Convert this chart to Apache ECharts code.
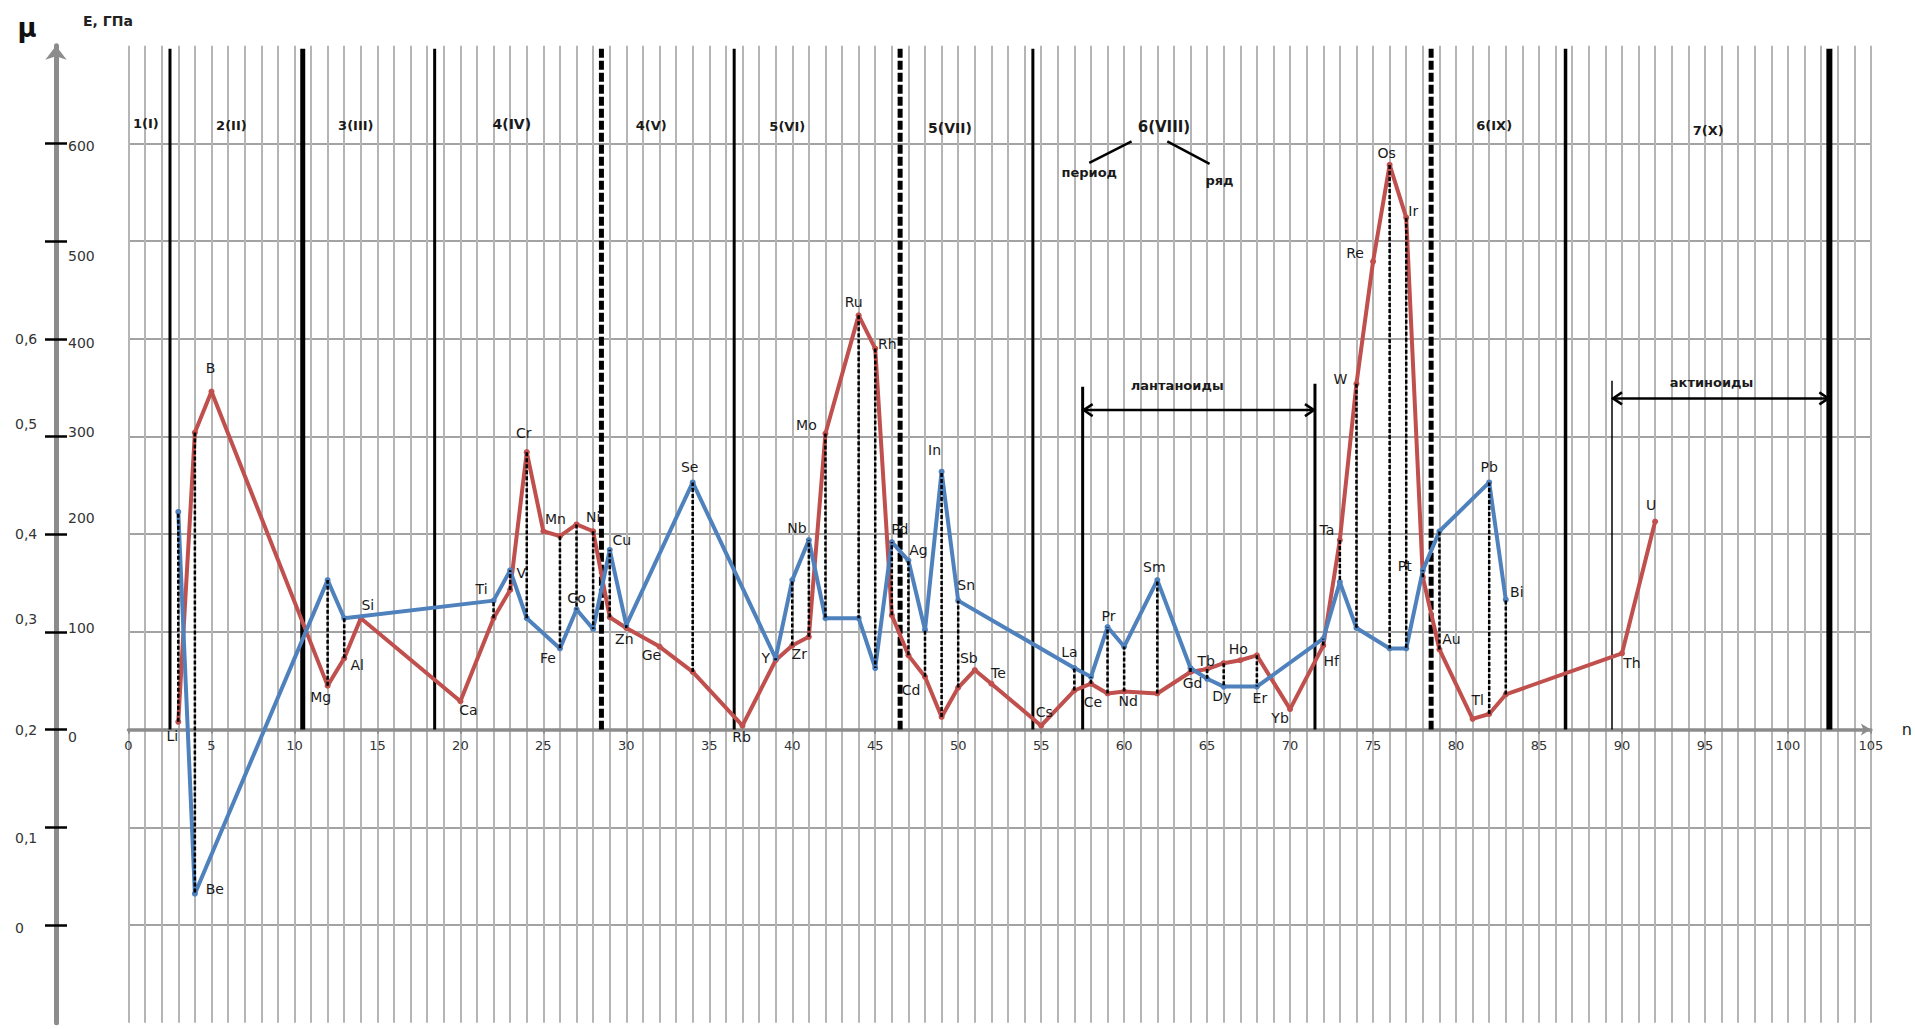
<!DOCTYPE html>
<html>
<head>
<meta charset="utf-8">
<title>E и μ элементов</title>
<script src="https://cdn.jsdelivr.net/npm/echarts@6/dist/echarts.min.js"></script>
<style>
  html, body { margin: 0; padding: 0; background: #fff; }
  #chart { width: 1915px; height: 1029px; }
</style>
</head>
<body>
<div id="chart"></div>
<script>
// модуль упругости E, ГПа (красная линия) по порядковому номеру n
const redN = [3, 4, 5, 12, 13, 14, 20, 22, 23, 24, 25, 26, 27, 28, 29, 30, 32, 34, 37, 39, 40, 41, 42, 44, 45, 46, 47, 48, 49, 50, 51, 52, 55, 57, 58, 59, 60, 62, 64, 65, 66, 67, 68, 70, 72, 73, 74, 75, 76, 77, 78, 79, 81, 82, 83, 90, 92];
const redE = [8, 304, 346, 45, 73, 114, 29, 114, 143, 284, 203, 198, 210, 203, 115, 104, 85, 59, 4, 71, 86, 95, 303, 424, 390, 117, 76, 54, 13, 43, 61, 47, 4, 40, 47, 37, 39, 37, 59, 62, 68, 71, 76, 21, 86, 194, 354, 479, 578, 524, 156, 82, 11, 16, 36, 78, 213];
const redSym = ['Li', 'Be', 'B', 'Mg', 'Al', 'Si', 'Ca', 'Ti', 'V', 'Cr', 'Mn', 'Fe', 'Co', 'Ni', 'Cu', 'Zn', 'Ge', 'Se', 'Rb', 'Y', 'Zr', 'Nb', 'Mo', 'Ru', 'Rh', 'Pd', 'Ag', 'Cd', 'In', 'Sn', 'Sb', 'Te', 'Cs', 'La', 'Ce', 'Pr', 'Nd', 'Sm', 'Gd', 'Tb', 'Dy', 'Ho', 'Er', 'Yb', 'Hf', 'Ta', 'W', 'Re', 'Os', 'Ir', 'Pt', 'Au', 'Tl', 'Pb', 'Bi', 'Th', 'U'];

// коэффициент Пуассона μ (синяя линия)
const blueN = [3, 4, 12, 13, 22, 23, 24, 26, 27, 28, 29, 30, 34, 39, 40, 41, 42, 44, 45, 46, 47, 48, 49, 50, 57, 58, 59, 60, 62, 64, 65, 66, 68, 72, 73, 74, 76, 77, 78, 79, 82, 83];
const blueMu = [0.423, 0.032, 0.353, 0.314, 0.332, 0.363, 0.314, 0.283, 0.323, 0.303, 0.384, 0.307, 0.453, 0.273, 0.353, 0.394, 0.314, 0.314, 0.263, 0.392, 0.373, 0.302, 0.464, 0.332, 0.263, 0.254, 0.305, 0.285, 0.353, 0.263, 0.252, 0.244, 0.244, 0.293, 0.351, 0.304, 0.283, 0.283, 0.363, 0.403, 0.453, 0.333];
const blueSym = ['Li', 'Be', 'Mg', 'Al', 'Ti', 'V', 'Cr', 'Fe', 'Co', 'Ni', 'Cu', 'Zn', 'Se', 'Y', 'Zr', 'Nb', 'Mo', 'Ru', 'Rh', 'Pd', 'Ag', 'Cd', 'In', 'Sn', 'La', 'Ce', 'Pr', 'Nd', 'Sm', 'Gd', 'Tb', 'Dy', 'Er', 'Hf', 'Ta', 'W', 'Os', 'Ir', 'Pt', 'Au', 'Pb', 'Bi'];

// подписи шкал
const eTicks = [0, 100, 200, 300, 400, 500, 600];
const muTicks = [0, 0.1, 0.2, 0.3, 0.4, 0.5, 0.6];

// оси: E от -300 до 700, μ от -0,1 до 0,9 (μ = 0,2 при E = 0)
const E_MIN = -300, E_MAX = 700;
const MU_MIN = -0.1, MU_MAX = 0.9;
const muToE = (mu) => E_MIN + (mu - MU_MIN) / (MU_MAX - MU_MIN) * (E_MAX - E_MIN);

const FONT = 'DejaVu Sans';
const RED = '#c0504d';
const BLUE = '#4f81bd';

// размеры области построения
const GRID_TOP = 45.7, GRID_BOTTOM = 6.3, CHART_H = 1029;
const plotH = CHART_H - GRID_TOP - GRID_BOTTOM;
// ось n проходит через E = 0
const xAxisLift = plotH * (0 - E_MIN) / (E_MAX - E_MIN);

// к какой линии прикреплена подпись элемента и её сдвиг в пикселях
const labelAt = {
  Li: ['E', -6, 14], Be: ['mu', 20, -5], B: ['E', -1, -24], Mg: ['E', -7, 11], Al: ['E', 13, 7],
  Si: ['E', 7, -13], Ca: ['E', 8, 9], Ti: ['mu', -12, -12], V: ['mu', 11, 3], Cr: ['E', -3, -19],
  Mn: ['E', 12, -12], Fe: ['mu', -12, 9], Co: ['mu', 0, -11], Ni: ['E', 0, -14], Cu: ['mu', 12, -10],
  Zn: ['E', -2, 11], Ge: ['E', -8, 8], Se: ['mu', -3, -15], Rb: ['E', -1, 11], Y: ['mu', -10, 0],
  Zr: ['E', 7, 8], Nb: ['mu', -12, -12], Mo: ['E', -19, -9], Ru: ['E', -5, -13], Rh: ['E', 12, -5],
  Pd: ['mu', 8, -13], Ag: ['mu', 10, -11], Cd: ['E', -14, 13], In: ['mu', -7, -22], Sn: ['mu', 8, -16],
  Sb: ['E', -6, -12], Te: ['E', 7, -11], Cs: ['E', 3, -14], La: ['mu', -5, -16], Ce: ['E', 2, 18],
  Pr: ['mu', 1, -11], Nd: ['E', 4, 10], Sm: ['mu', -3, -13], Gd: ['E', 2, 11], Tb: ['E', -1, -8],
  Dy: ['mu', -2, 9], Ho: ['E', -2, -11], Er: ['mu', 3, 11], Yb: ['E', -10, 9], Hf: ['E', 8, 15],
  Ta: ['E', -13, -10], W: ['E', -16, -5], Re: ['E', -18, -9], Os: ['E', -3, -12], Ir: ['E', 7, -7],
  Pt: ['mu', -18, -4], Au: ['E', 12, -10], Tl: ['E', 5, -19], Pb: ['mu', 0, -15], Bi: ['mu', 11, -8],
  Th: ['E', 10, 10], U: ['E', -4, -16]
};

// вертикальные границы периодов/рядов (n, верх по шкале E, толщина, пунктир)
const vLines = [
  [2.5, 697, 3, 0], [10.5, 697, 5, 0], [18.45, 697, 3, 0], [28.5, 697, 5, 1], [36.5, 697, 3, 0],
  [46.5, 697, 5, 1], [54.5, 697, 3, 0], [78.5, 697, 5, 1], [86.6, 697, 3.5, 0], [102.5, 697, 6, 0],
  [57.5, 351, 3, 0], [71.5, 354, 3, 0], [89.4, 357, 1.5, 0]
];
// двусторонние стрелки лантаноидов и актиноидов
const arrows = [[57.5, 71.5, 327], [89.4, 102.5, 339]];
// линии от «6(VIII)» к «период» и «ряд»
const connectors = [[60.45, 602, 57.9, 580], [62.6, 602, 65.15, 579]];
// подписи периодов и рядов: текст, n, E, размер шрифта
const notes = [
  ['1(I)', 1.05, 620, 13], ['2(II)', 6.2, 618, 13], ['3(III)', 13.7, 618, 13],
  ['4(IV)', 23.1, 620, 14], ['4(V)', 31.5, 618, 13], ['5(VI)', 39.7, 617, 13],
  ['5(VII)', 49.5, 616, 14], ['6(VIII)', 62.4, 617, 15], ['6(IX)', 82.3, 618, 13],
  ['7(X)', 95.2, 613, 13], ['период', 57.9, 570, 13], ['ряд', 65.75, 562, 13],
  ['лантаноиды', 63.2, 352, 13], ['актиноиды', 95.4, 355, 13]
];

// сдвиг подписей шкал по вертикали, как на оригинале
const eShift = { 600: 3, 500: 15, 400: 4, 300: -5, 200: -16, 100: -4, 0: 7 };
const muShift = { 6: 0, 5: -13, 4: 0, 3: -13, 2: 0, 1: 11, 0: 3 };

function shifted(d) {
  return {
    fontSize: 14, fontFamily: FONT, color: '#333',
    padding: d > 0 ? [2 * d, 0, 0, 0] : [0, 0, -2 * d, 0]
  };
}
const eRich = {};
Object.keys(eShift).forEach(k => { eRich['e' + k] = shifted(eShift[k]); });
const muRich = {};
Object.keys(muShift).forEach(k => { muRich['m' + k] = shifted(muShift[k]); });

function pointLabel(sym, side) {
  const spec = labelAt[sym];
  if (!spec || spec[0] !== side) return undefined;
  return { show: true, formatter: sym, offset: [spec[1], spec[2]] };
}

const redData = redN.map((n, i) => ({ value: [n, redE[i]], label: pointLabel(redSym[i], 'E') }));
const blueData = blueN.map((n, i) => ({ value: [n, blueMu[i]], label: pointLabel(blueSym[i], 'mu') }));

// пунктир между E и μ одного элемента
const dropData = [];
blueN.forEach((n, i) => {
  const j = redN.indexOf(n);
  if (j >= 0) dropData.push([n, redE[j], muToE(blueMu[i])]);
});

const chart = echarts.init(document.getElementById('chart'), null, { renderer: 'svg' });

const option = {
  animation: false,
  backgroundColor: '#fff',
  grid: { left: 128.5, top: GRID_TOP, right: 43, bottom: GRID_BOTTOM },
  graphic: [
    { type: 'text', x: 27, y: 28, style: { text: 'μ', fontSize: 26, fontWeight: 'bold', fontFamily: FONT, fill: '#111', align: 'center', verticalAlign: 'middle' } },
    { type: 'text', x: 83, y: 21, style: { text: 'E, ГПа', fontSize: 14, fontWeight: 'bold', fontFamily: FONT, fill: '#222', align: 'left', verticalAlign: 'middle' } }
  ],
  xAxis: {
    type: 'value', min: 0, max: 105, interval: 5,
    position: 'bottom', offset: -xAxisLift,
    name: 'n', nameLocation: 'end', nameGap: 31,
    nameTextStyle: { fontSize: 16, color: '#222', fontFamily: FONT, verticalAlign: 'middle' },
    axisLine: {
      onZero: false,
      lineStyle: { color: '#8c8c8c', width: 3.5 },
      symbol: ['none', 'arrow'], symbolSize: [9, 10]
    },
    axisTick: { show: true, length: 4, lineStyle: { color: '#8c8c8c', width: 2 } },
    axisLabel: { fontSize: 13, color: '#333', fontFamily: FONT, margin: 9 },
    splitLine: { show: true, lineStyle: { color: '#b5b5b5', width: 2 } },
    minorTick: { show: false, splitNumber: 5 },
    minorSplitLine: { show: true, lineStyle: { color: '#b5b5b5', width: 2 } }
  },
  yAxis: [
    {
      type: 'value', min: E_MIN, max: E_MAX, interval: 100,
      position: 'left', offset: 72.5,
      axisLine: {
        show: true, onZero: false,
        lineStyle: { color: '#8c8c8c', width: 5 },
        symbol: ['none', 'arrow'], symbolSize: [16, 14]
      },
      axisTick: {
        show: true, inside: true, length: 11,
        customValues: [-200, -100, 0, 100, 200, 300, 400, 500, 600],
        lineStyle: { color: '#000', width: 2.5 }
      },
      axisLabel: {
        inside: true, margin: 12, customValues: eTicks,
        formatter: v => '{e' + v + '|' + v + '}',
        rich: eRich
      },
      splitLine: { show: true, lineStyle: { color: '#a3a3a3', width: 2 } }
    },
    {
      type: 'value', min: MU_MIN, max: MU_MAX, interval: 0.1,
      position: 'left', offset: 72.5,
      axisLine: { show: false, onZero: false },
      axisTick: {
        show: true, length: 11,
        customValues: [0, 0.1, 0.2, 0.3, 0.4, 0.5, 0.6, 0.7, 0.8],
        lineStyle: { color: '#000', width: 2.5 }
      },
      axisLabel: {
        margin: 41, align: 'left', customValues: muTicks,
        formatter: v => {
          const k = Math.round(v * 10);
          const t = k === 0 ? '0' : v.toFixed(1).replace('.', ',');
          return '{m' + k + '|' + t + '}';
        },
        rich: muRich
      },
      splitLine: { show: false }
    }
  ],
  series: [
    {
      name: 'границы',
      type: 'custom',
      z: 2,
      silent: true,
      data: vLines.map(v => [v[0], v[1]]),
      renderItem: (params, api) => {
        const v = vLines[params.dataIndex];
        const a = api.coord([v[0], v[1]]);
        const b = api.coord([v[0], 0]);
        return {
          type: 'line',
          shape: { x1: a[0], y1: a[1], x2: b[0], y2: b[1] },
          style: { stroke: '#000', lineWidth: v[2], lineDash: v[3] ? [9, 3] : null }
        };
      }
    },
    {
      name: 'стрелки',
      type: 'custom',
      z: 2,
      silent: true,
      data: arrows.map(a => [a[0], a[2]]),
      renderItem: (params, api) => {
        const ar = arrows[params.dataIndex];
        const p1 = api.coord([ar[0], ar[2]]);
        const p2 = api.coord([ar[1], ar[2]]);
        const st = { stroke: '#000', lineWidth: 2.5, fill: null };
        return {
          type: 'group',
          children: [
            { type: 'line', shape: { x1: p1[0], y1: p1[1], x2: p2[0], y2: p2[1] }, style: st },
            { type: 'polyline', shape: { points: [[p1[0] + 10, p1[1] - 6], [p1[0] + 1, p1[1]], [p1[0] + 10, p1[1] + 6]] }, style: st },
            { type: 'polyline', shape: { points: [[p2[0] - 10, p2[1] - 6], [p2[0] - 1, p2[1]], [p2[0] - 10, p2[1] + 6]] }, style: st }
          ]
        };
      }
    },
    {
      name: 'выноски',
      type: 'custom',
      z: 2,
      silent: true,
      data: connectors.map(c => [c[0], c[1]]),
      renderItem: (params, api) => {
        const c = connectors[params.dataIndex];
        const a = api.coord([c[0], c[1]]);
        const b = api.coord([c[2], c[3]]);
        return {
          type: 'line',
          shape: { x1: a[0], y1: a[1], x2: b[0], y2: b[1] },
          style: { stroke: '#000', lineWidth: 2.5 }
        };
      }
    },
    {
      name: 'подписи',
      type: 'custom',
      z: 6,
      silent: true,
      data: notes.map(t => [t[1], t[2]]),
      renderItem: (params, api) => {
        const t = notes[params.dataIndex];
        const p = api.coord([t[1], t[2]]);
        return {
          type: 'text',
          x: p[0], y: p[1],
          style: {
            text: t[0], fontSize: t[3], fontWeight: 'bold', fontFamily: FONT,
            fill: '#1a1a1a', align: 'center', verticalAlign: 'middle'
          }
        };
      }
    },
    {
      name: 'E',
      type: 'line',
      z: 3,
      data: redData,
      symbol: 'circle',
      symbolSize: 6,
      showAllSymbol: true,
      itemStyle: { color: RED },
      lineStyle: { color: RED, width: 4 },
      label: { show: false, position: 'inside', fontSize: 14, color: '#1a1a1a', fontFamily: FONT }
    },
    {
      name: 'μ',
      type: 'line',
      yAxisIndex: 1,
      z: 4,
      data: blueData,
      symbol: 'circle',
      symbolSize: 6,
      showAllSymbol: true,
      itemStyle: { color: BLUE },
      lineStyle: { color: BLUE, width: 4 },
      label: { show: false, position: 'inside', fontSize: 14, color: '#1a1a1a', fontFamily: FONT }
    },
    {
      name: 'связь',
      type: 'custom',
      z: 5,
      silent: true,
      data: dropData,
      renderItem: (params, api) => {
        const a = api.coord([api.value(0), api.value(1)]);
        const b = api.coord([api.value(0), api.value(2)]);
        return {
          type: 'line',
          shape: { x1: a[0], y1: a[1], x2: b[0], y2: b[1] },
          style: { stroke: '#000', lineWidth: 2.5, lineDash: [4, 2] }
        };
      }
    }
  ]
};

chart.setOption(option);
window.addEventListener('resize', () => chart.resize());
</script>
</body>
</html>
